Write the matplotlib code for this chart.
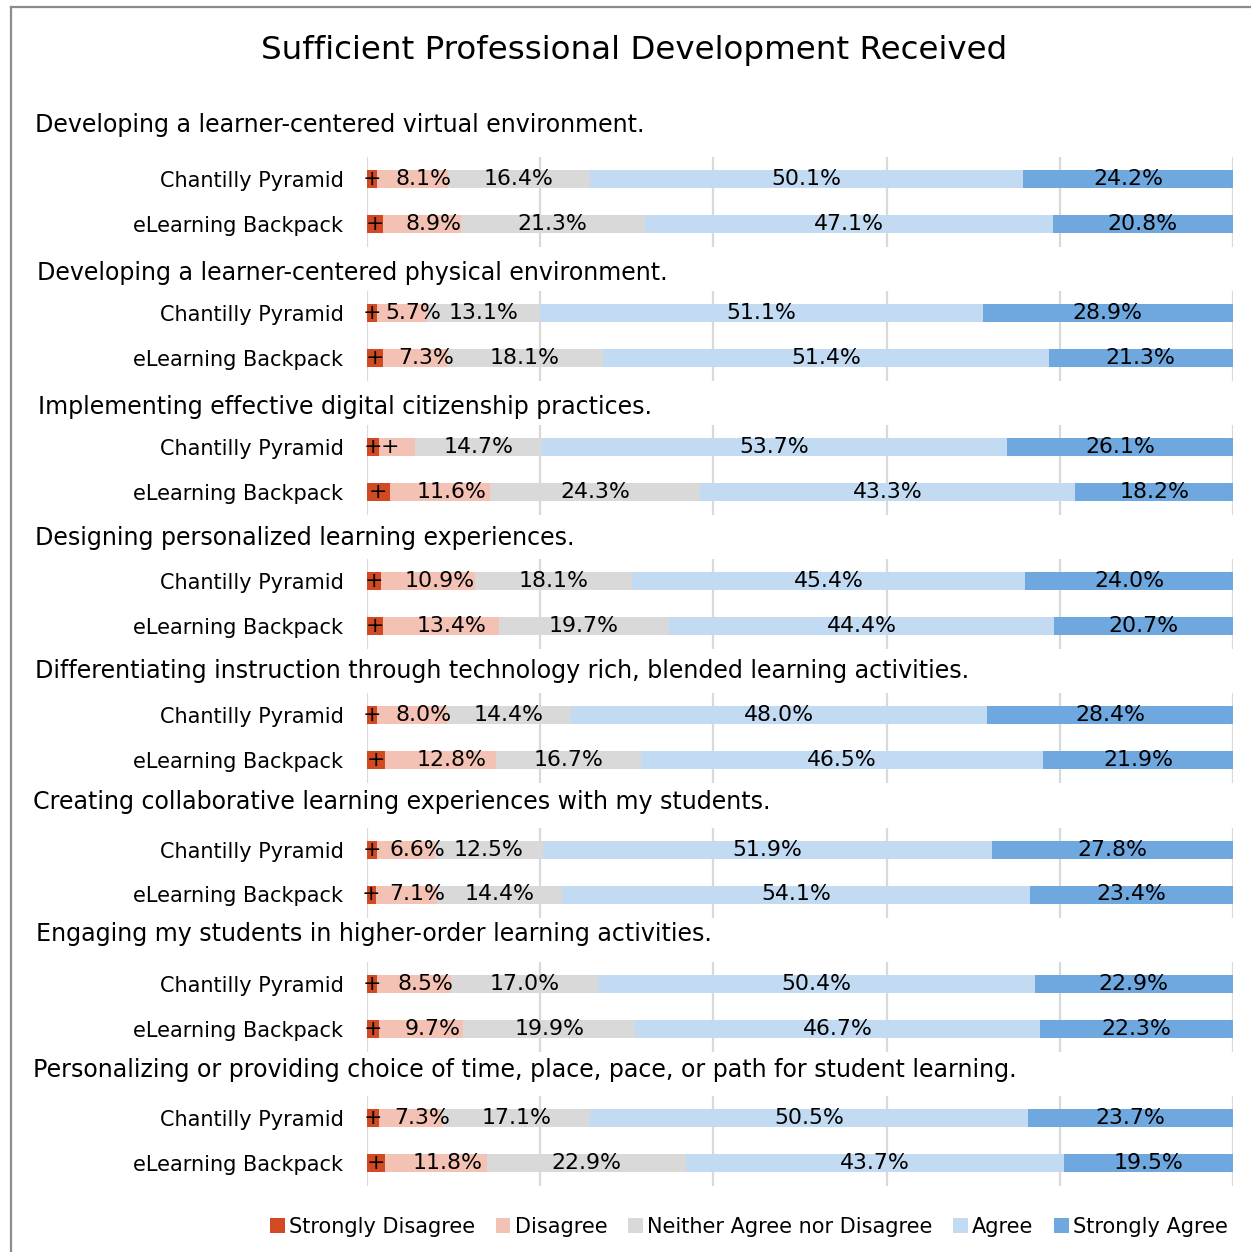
import matplotlib
matplotlib.use("Agg")
import matplotlib.pyplot as plt
from matplotlib.lines import Line2D
from matplotlib.patches import Patch

plt.rcParams['font.family'] = ['DejaVu Sans']

# categories and groups
statements = [
    "Developing a learner-centered virtual environment.",
    "Developing a learner-centered physical environment.",
    "Implementing effective digital citizenship practices.",
    "Designing personalized learning experiences.",
    "Differentiating instruction through technology rich, blended learning activities.",
    "Creating collaborative learning experiences with my students.",
    "Engaging my students in higher-order learning activities.",
    "Personalizing or providing choice of time, place, pace, or path for student learning.",
]
groups = ["Chantilly Pyramid", "eLearning Backpack"]
levels = ["Strongly Disagree", "Disagree", "Neither Agree nor Disagree", "Agree", "Strongly Agree"]
colors = ["#D24A24", "#F4C2B4", "#D9D9D9", "#C2DBF3", "#6FA8DF"]

# percentages per statement: [Chantilly Pyramid, eLearning Backpack]
strongly_disagree = [[1.2, 1.9], [1.2, 1.9], [1.4, 2.6], [1.6, 1.8], [1.2, 2.1], [1.2, 1.0], [1.2, 1.4], [1.4, 2.1]]
disagree = [[8.1, 8.9], [5.7, 7.3], [4.1, 11.6], [10.9, 13.4], [8.0, 12.8], [6.6, 7.1], [8.5, 9.7], [7.3, 11.8]]
neither = [[16.4, 21.3], [13.1, 18.1], [14.7, 24.3], [18.1, 19.7], [14.4, 16.7], [12.5, 14.4], [17.0, 19.9], [17.1, 22.9]]
agree = [[50.1, 47.1], [51.1, 51.4], [53.7, 43.3], [45.4, 44.4], [48.0, 46.5], [51.9, 54.1], [50.4, 46.7], [50.5, 43.7]]
strongly_agree = [[24.2, 20.8], [28.9, 21.3], [26.1, 18.2], [24.0, 20.7], [28.4, 21.9], [27.8, 23.4], [22.9, 22.3], [23.7, 19.5]]

W, H = 1251, 1252
fig = plt.figure(figsize=(W / 100, H / 100), dpi=100)

# chart border (left and top edges visible)
fig.add_artist(Line2D([11 / W, 11 / W], [0, 1 - 7 / H], color="#8C8C8C", lw=1.6))
fig.add_artist(Line2D([11 / W, 1], [1 - 7 / H, 1 - 7 / H], color="#8C8C8C", lw=1.6))

fig.text(634 / W, 1 - 50 / H, "Sufficient Professional Development Received",
         ha="center", va="center", fontsize=23.4)

header_x = [35, 37, 38, 35, 35, 33, 36, 33]
header_y = [125, 273, 407, 538, 671, 802, 934, 1070]
first_bar = 179
step = 134.1
gap = 45

x0, x1 = 367, 1233
for i, stmt in enumerate(statements):
    fig.text(header_x[i] / W, 1 - header_y[i] / H, stmt, ha="left", va="center", fontsize=17.1)
    cy = first_bar + step * i
    top = cy - 22
    bottom = cy + gap + 23
    ax = fig.add_axes([x0 / W, 1 - bottom / H, (x1 - x0) / W, (bottom - top) / H])
    series = [strongly_disagree[i], disagree[i], neither[i], agree[i], strongly_agree[i]]
    left = [0.0, 0.0]
    for k, vals in enumerate(series):
        ax.barh([0, 1], vals, left=left, height=0.4, color=colors[k], zorder=2)
        for j in range(2):
            small = vals[j] < 5
            lab = "+" if small else f"{vals[j]:.1f}%"
            xc = left[j] + vals[j] / 2
            if k == 1:
                # Disagree labels sit a little right of the "+" marker
                xc += -0.8 if small else 1.3
            ax.text(xc, j, lab, ha="center", va="center",
                    fontsize=15.8, color="black", zorder=3)
        left = [left[j] + vals[j] for j in range(2)]
    ax.set_xlim(0, 100)
    ax.set_ylim(1 + 23 / gap, -22 / gap)
    ax.set_xticks([0, 20, 40, 60, 80, 100])
    ax.grid(axis="x", color="#D9D9D9", lw=1.6, zorder=0)
    ax.tick_params(axis="x", length=0, labelbottom=False)
    ax.set_yticks([0, 1])
    ax.set_yticklabels(groups, fontsize=15)
    ax.tick_params(axis="y", length=0, pad=17)
    for s in ax.spines.values():
        s.set_visible(False)

handles = [Patch(facecolor=c, edgecolor="none") for c in colors]
fig.legend(handles, levels, loc="center right", bbox_to_anchor=(1236 / W, 1 - 1227 / H),
           ncol=5, frameon=False, fontsize=15, handlelength=0.7, handleheight=0.7,
           handletextpad=0.2, columnspacing=1.0, borderaxespad=0)

fig.savefig("out.png", dpi=100)
